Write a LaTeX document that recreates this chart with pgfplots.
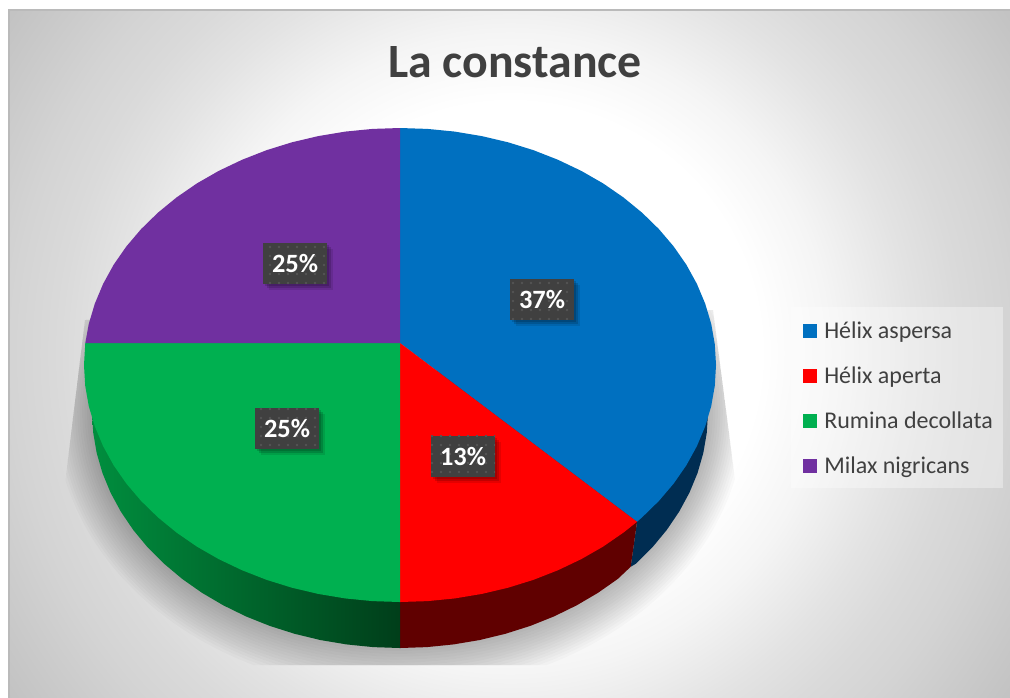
\documentclass[border=0pt]{standalone}
\usepackage{fontspec}
\setmainfont{Carlito}
\usepackage{pgfplots}
\pgfplotsset{compat=1.18}
\usetikzlibrary{patterns.meta,shadows}

\definecolor{txt}{HTML}{404040}
\definecolor{blu}{HTML}{0070C0}
\definecolor{rd}{HTML}{FF0000}
\definecolor{grn}{HTML}{00B050}
\definecolor{pur}{HTML}{7030A0}
\pgfdeclareradialshading{bgrad}{\pgfpoint{0bp}{0bp}}{%
  color(0bp)=(white); color(10.25bp)=(white); color(13.1bp)=(black!4); color(14.75bp)=(black!7.5);
  color(16.4bp)=(black!11); color(18.45bp)=(black!14.5); color(20.5bp)=(black!17);
  color(25bp)=(black!24); color(30bp)=(black!24)}

\pgfplotstableread{
x y v
542 299 37
463 456 13
287 428 25
295 263.5 25
}\pctlabels

\begin{document}
\begin{tikzpicture}
\begin{axis}[
  scale only axis, width=505pt, height=348.5pt,
  xmin=0, xmax=1010, ymin=0, ymax=697, y dir=reverse,
  hide axis,
  legend style={at={(0.783,0.561)}, anchor=north west, draw=none,
    fill=none, text=txt,
    font=\fontsize{12}{13}\selectfont, inner xsep=6pt, inner ysep=5pt, column sep=1.5pt,
    row sep=7.2pt, nodes={inner ysep=0pt, inner xsep=2pt, minimum height=15.3pt, anchor=base west}},
  legend cell align=left,
  legend image code/.code={\fill[#1] (0pt,0.5pt) rectangle (7pt,7.5pt);},
]
% background
\addplot[forget plot, shading=bgrad, draw=none] coordinates {(-100,-257)(1120,-257)(1120,963)(-100,963)} --cycle;
\addplot[forget plot, fill=white, draw=none] coordinates {(-5,-5)(8.5,-5)(8.5,702)(-5,702)} --cycle;
\addplot[forget plot, fill=white, draw=none] coordinates {(-5,-5)(1015,-5)(1015,9.5)(-5,9.5)} --cycle;
\addplot[forget plot, draw=black!27, line width=0.8pt] coordinates {(1012,10)(9,10)(9,700)};
% legend panel
\addplot[forget plot, fill=white, fill opacity=0.35, draw=none] coordinates {(791,307)(1003,307)(1003,488)(791,488)} --cycle;

% soft shadow under the pie
\begin{scope}
\clip (axis cs:85,320) -- (axis cs:63,500) -- (axis cs:63,665) -- (axis cs:740,665)
      -- (axis cs:737,495) -- (axis cs:713,310) -- cycle;
\pgfplotsinvokeforeach{0,1,...,15}{
  \fill[black, fill opacity=0.02] (axis cs:400,412) ellipse [x radius={154pt+#1*1.23pt}, y radius={118pt+#1*1.45pt}];
}
\end{scope}

% side walls
\addplot[forget plot, fill={rgb,255:red,0;green,45;blue,82}, draw=none] coordinates {
  (400,365)(708,412)(706.8,432.6)(703.3,453)(697.5,473.1)(689.4,492.7)(679.1,511.7)
  (666.7,530)(652.3,547.4)(635.9,563.7)(630.7,566.7)(637,521.8)} --cycle;
\addplot[forget plot, fill={rgb,255:red,96;green,0;blue,0}, draw=none] coordinates {
  (637,521.8)(630.7,566.7)(617.8,578.9)(598,592.8)(576.7,605.3)(554,616.4)(530.2,625.9)
  (505.3,633.8)(479.7,640)(453.5,644.4)(426.8,647.1)(400,648)(400,590)} --cycle;
\addplot[forget plot, shade, draw=none, left color={rgb,255:red,0;green,142;blue,62},
  middle color={rgb,255:red,0;green,106;blue,44}, right color={rgb,255:red,0;green,62;blue,26}] coordinates {
  (400,590)(400,648)(373.2,647.1)(346.5,644.4)(320.3,640)(294.7,633.8)(269.8,625.9)
  (246,616.4)(223.3,605.3)(202,592.8)(182.2,578.9)(164.1,563.7)(147.7,547.4)(133.3,530)
  (120.9,511.7)(110.6,492.7)(102.5,473.1)(96.7,453)(93.2,432.6)(92,412)(400,365)} --cycle;

% top face, clockwise from twelve o'clock
\addplot[fill=blu, draw=none] coordinates {
  (400,343)(637,521.8)(642.1,517.3)(658.9,500.9)(673.7,483.5)(686.4,465.2)(696.9,446.1)
  (705.2,426.3)(711.2,406.2)(714.8,385.7)(716,365)(714.8,344.3)(711.2,323.8)(705.2,303.7)
  (696.9,283.9)(686.4,264.8)(673.7,246.5)(658.9,229.1)(642.1,212.7)(623.4,197.4)(603.1,183.4)
  (581.3,170.9)(558,159.8)(533.5,150.2)(508.1,142.3)(481.8,136.1)(454.9,131.6)(427.5,128.9)
  (400,128)} --cycle;
\addlegendentry{Hélix aspersa}
\addplot[fill=rd, draw=none] coordinates {
  (400,343)(400,602)(427.5,601.1)(454.9,598.4)(481.8,593.9)(508.1,587.7)(533.5,579.8)
  (558,570.2)(581.3,559.1)(603.1,546.6)(623.4,532.6)(637,521.8)} --cycle;
\addlegendentry{Hélix aperta}
\addplot[fill=grn, draw=none] coordinates {
  (400,343)(85.3,343)(85.2,344.3)(84,365)(85.2,385.7)(88.8,406.2)(94.8,426.3)(103.1,446.1)
  (113.6,465.2)(126.3,483.5)(141.1,500.9)(157.9,517.3)(176.6,532.6)(196.9,546.6)(218.7,559.1)
  (242,570.2)(266.5,579.8)(291.9,587.7)(318.2,593.9)(345.1,598.4)(372.5,601.1)(400,602)} --cycle;
\addlegendentry{Rumina decollata}
\addplot[fill=pur, draw=none] coordinates {
  (400,343)(400,128)(372.5,128.9)(345.1,131.6)(318.2,136.1)(291.9,142.3)(266.5,150.2)(242,159.8)
  (218.7,170.9)(196.9,183.4)(176.6,197.4)(157.9,212.7)(141.1,229.1)(126.3,246.5)(113.6,264.8)
  (103.1,283.9)(94.8,303.7)(88.8,323.8)(85.3,343)} --cycle;
\addlegendentry{Milax nigricans}

% percentage labels
\addplot[forget plot, only marks, mark=none, point meta=explicit,
  nodes near coords={\pgfmathprintnumber[assume math mode=true]{\pgfplotspointmeta}\%},
  every node near coord/.append style={anchor=center, draw=none, fill=txt, text=white,
    font=\fontsize{13.2}{15}\selectfont\bfseries, minimum width=32pt, minimum height=20.5pt, inner sep=0pt,
    general shadow={shadow xshift=1pt, shadow yshift=-1pt, fill=black, draw=none, opacity=0.15},
    general shadow={shadow xshift=2pt, shadow yshift=-2pt, fill=black, draw=none, opacity=0.15},
    general shadow={shadow xshift=3pt, shadow yshift=-3pt, fill=black, draw=none, opacity=0.1},
    postaction={draw=none, pattern={Dots[distance=4.5pt,radius=0.65pt]}, pattern color=black!67}}]
  table[x=x, y=y, meta=v] {\pctlabels};

\node[text=txt, font=\fontsize{23.9}{26}\selectfont\bfseries] at (axis cs:515,62) {La constance};
\end{axis}
\pgfresetboundingbox
\path[use as bounding box] (0,0) rectangle (505pt,348.5pt);
\end{tikzpicture}
\end{document}
